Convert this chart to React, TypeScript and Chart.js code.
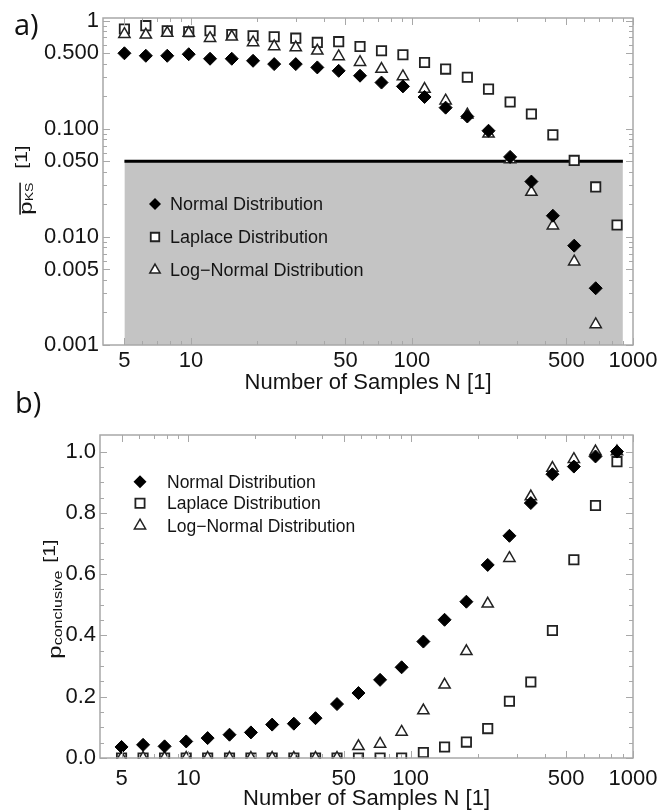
import React, { useEffect, useRef } from 'react';
import { Chart, registerables } from 'chart.js';

Chart.register(...registerables);

const FONT = "'Liberation Sans', Arial, Helvetica, sans-serif";
const TEXT = '#141414';
const FRAME = '#a8a8a8';

// ---------- data ----------
const sampleSizes = [5, 6.25, 7.81, 9.77, 12.2, 15.3, 19.1, 23.8, 29.8, 37.3, 46.6, 58.2, 72.8, 91.0, 114, 142, 178, 222, 278, 347, 434, 542, 678, 847];

// panel a: mean KS p-value
const ksNormal = [0.5, 0.474, 0.474, 0.49, 0.445, 0.445, 0.426, 0.397, 0.397, 0.37, 0.344, 0.31, 0.268, 0.247, 0.197, 0.157, 0.13, 0.096, 0.055, 0.0325, 0.0157, 0.0083, 0.00335];
const ksLaplace = [0.838, 0.9, 0.807, 0.79, 0.807, 0.746, 0.726, 0.711, 0.69, 0.63, 0.64, 0.578, 0.527, 0.484, 0.411, 0.357, 0.3, 0.233, 0.177, 0.137, 0.088, 0.051, 0.029, 0.0129];
const ksLogNormal = [0.75, 0.74, 0.77, 0.77, 0.69, 0.71, 0.63, 0.578, 0.565, 0.527, 0.468, 0.414, 0.357, 0.305, 0.233, 0.182, 0.135, 0.09, 0.052, 0.026, 0.0127, 0.0059, 0.00155];

// panel b: probability of a conclusive test
const pcNormal = [0.036, 0.043, 0.038, 0.054, 0.065, 0.076, 0.0835, 0.109, 0.112, 0.13, 0.176, 0.212, 0.255, 0.296, 0.38, 0.451, 0.51, 0.63, 0.725, 0.832, 0.926, 0.951, 0.984, 1.0];
const pcLaplace = [0, 0, 0, 0, 0, 0, 0, 0, 0, 0, 0, 0, 0, 0, 0.018, 0.036, 0.052, 0.096, 0.185, 0.248, 0.416, 0.647, 0.824, 0.967];
const pcLogNormal = [0, 0, 0, 0, 0, 0, 0, 0, 0, 0, 0, 0.038, 0.046, 0.085, 0.155, 0.239, 0.348, 0.503, 0.652, 0.853, 0.946, 0.975, 1.0, 1.0];

// significance threshold band
const thresholdX = [5, 900];
const thresholdY = [0.05, 0.05];

const seriesNames = ['Normal Distribution', 'Laplace Distribution', 'Log\u2212Normal Distribution'];

// ticks
const xMajorTicks = [5, 10, 50, 100, 500, 1000];
const xMinorTicks = [6, 7, 8, 9, 20, 30, 40, 60, 70, 80, 90, 200, 300, 400, 600, 700, 800, 900];
const ksMajorTicks = [0.001, 0.005, 0.01, 0.05, 0.1, 0.5, 1];
const ksTickLabels = ['0.001', '0.005', '0.010', '0.050', '0.100', '0.500', '1'];
const ksMinorTicks = [0.002, 0.003, 0.004, 0.006, 0.007, 0.008, 0.009, 0.02, 0.03, 0.04, 0.06, 0.07, 0.08, 0.09, 0.2, 0.3, 0.4, 0.6, 0.7, 0.8, 0.9];
const pcMajorTicks = [0, 0.2, 0.4, 0.6, 0.8, 1.0];
const pcTickLabels = ['0.0', '0.2', '0.4', '0.6', '0.8', '1.0'];
const pcMinorTicks = [0.05, 0.1, 0.15, 0.25, 0.3, 0.35, 0.45, 0.5, 0.55, 0.65, 0.7, 0.75, 0.85, 0.9, 0.95];

const xTitle = 'Number of Samples N [1]';

// ---------- helpers ----------
const toPoints = (ys: number[]) => ys.map((y, i) => ({ x: sampleSizes[i], y }));

type Shape = 'diamond' | 'square' | 'triangle';

function drawMarker(ctx: CanvasRenderingContext2D, shape: Shape, x: number, y: number, r: number) {
  ctx.save();
  ctx.beginPath();
  if (shape === 'diamond') {
    ctx.moveTo(x, y - r);
    ctx.lineTo(x + r, y);
    ctx.lineTo(x, y + r);
    ctx.lineTo(x - r, y);
    ctx.closePath();
    ctx.fillStyle = '#000';
    ctx.fill();
  } else if (shape === 'square') {
    const s = r * Math.SQRT1_2;
    ctx.rect(x - s, y - s, 2 * s, 2 * s);
    ctx.fillStyle = '#fff';
    ctx.fill();
    ctx.lineWidth = 1.8;
    ctx.strokeStyle = '#222';
    ctx.stroke();
  } else {
    ctx.moveTo(x, y - r);
    ctx.lineTo(x + r * 0.866, y + r / 2);
    ctx.lineTo(x - r * 0.866, y + r / 2);
    ctx.closePath();
    ctx.fillStyle = '#fff';
    ctx.fill();
    ctx.lineWidth = 1.5;
    ctx.strokeStyle = '#222';
    ctx.stroke();
  }
  ctx.restore();
}

type YTitle = {
  bx: number; dcy: number; squash: number;
  main: string; mainSize: number;
  sub: string; subSize: number; subDy: number;
  unit: string; unitSize: number; unitDy: number;
  gap: number; overline: boolean;
};

function drawYTitle(ctx: CanvasRenderingContext2D, cy: number, t: YTitle) {
  ctx.save();
  ctx.translate(t.bx, cy + t.dcy);
  ctx.rotate(-Math.PI / 2);
  ctx.scale(1, t.squash);
  ctx.fillStyle = TEXT;
  ctx.textAlign = 'left';
  ctx.textBaseline = 'alphabetic';
  ctx.font = `${t.mainSize}px ${FONT}`;
  const wm = ctx.measureText(t.main).width;
  ctx.font = `${t.subSize}px ${FONT}`;
  const ws = ctx.measureText(t.sub).width;
  ctx.font = `${t.unitSize}px ${FONT}`;
  const wu = ctx.measureText(t.unit).width;
  const total = wm + ws + t.gap + wu;
  const x0 = -total / 2;
  ctx.font = `${t.mainSize}px ${FONT}`;
  ctx.fillText(t.main, x0, 0);
  ctx.font = `${t.subSize}px ${FONT}`;
  ctx.fillText(t.sub, x0 + wm, t.subDy);
  if (t.overline) {
    ctx.fillRect(x0, -(0.53 * t.mainSize + 3.5), wm + ws, 2);
  }
  ctx.font = `${t.unitSize}px ${FONT}`;
  ctx.fillText(t.unit, x0 + wm + ws + t.gap, t.unitDy);
  ctx.restore();
}

type DecorCfg = {
  yMajor: number[]; yMinor: number[];
  legendX: number; legendTextX: number; legendRows: number[]; legendFont: number; legendR: number;
  title: YTitle;
  panelLabel: string; panelX: number; panelY: number;
};

function makeDecor(cfg: DecorCfg) {
  return {
    id: 'decor',
    afterDraw(chart: any) {
      const { ctx, chartArea: a, scales } = chart;
      const xs = scales.x;
      const ys = scales.y;
      ctx.save();
      // frame
      ctx.strokeStyle = FRAME;
      ctx.lineWidth = 1.5;
      ctx.strokeRect(a.left, a.top, a.right - a.left, a.bottom - a.top);
      // inward ticks
      ctx.lineWidth = 1;
      const line = (x1: number, y1: number, x2: number, y2: number) => {
        ctx.beginPath();
        ctx.moveTo(x1, y1);
        ctx.lineTo(x2, y2);
        ctx.stroke();
      };
      const tx = (vals: number[], len: number) =>
        vals.forEach((v) => {
          const p = Math.round(xs.getPixelForValue(v)) + 0.5;
          line(p, a.bottom, p, a.bottom - len);
          line(p, a.top, p, a.top + len);
        });
      const ty = (vals: number[], len: number) =>
        vals.forEach((v) => {
          const p = Math.round(ys.getPixelForValue(v)) + 0.5;
          line(a.left, p, a.left + len, p);
          line(a.right, p, a.right - len, p);
        });
      tx(xMajorTicks, 7);
      tx(xMinorTicks, 4);
      ty(cfg.yMajor, 7);
      ty(cfg.yMinor, 4);

      // legend
      const shapes: Shape[] = ['diamond', 'square', 'triangle'];
      ctx.font = `${cfg.legendFont}px ${FONT}`;
      ctx.textAlign = 'left';
      ctx.textBaseline = 'middle';
      seriesNames.forEach((name, i) => {
        const y = cfg.legendRows[i];
        drawMarker(ctx, shapes[i], cfg.legendX, y, cfg.legendR);
        ctx.fillStyle = TEXT;
        ctx.fillText(name, cfg.legendTextX, y + 1);
      });

      // rotated y title
      drawYTitle(ctx, (a.top + a.bottom) / 2, cfg.title);

      // panel label
      ctx.fillStyle = '#111';
      ctx.font = `29px 'Open Sans', ${FONT}`;
      ctx.textAlign = 'left';
      ctx.textBaseline = 'alphabetic';
      ctx.fillText(cfg.panelLabel, cfg.panelX, cfg.panelY);
      ctx.restore();
    },
  };
}

function markerDatasets(normal: number[], laplace: number[], logNormal: number[], clip: any) {
  return [
    {
      label: seriesNames[0],
      data: toPoints(normal),
      pointStyle: 'rectRot',
      pointRadius: 6.5,
      pointHoverRadius: 6.5,
      backgroundColor: '#000',
      borderColor: '#000',
      pointBorderWidth: 1,
      order: 0,
      clip,
    },
    {
      label: seriesNames[2],
      data: toPoints(logNormal),
      pointStyle: 'triangle',
      pointRadius: 6.5,
      pointHoverRadius: 6.5,
      backgroundColor: '#fff',
      borderColor: '#222',
      pointBorderWidth: 1.5,
      order: 1,
      clip,
    },
    {
      label: seriesNames[1],
      data: toPoints(laplace),
      pointStyle: 'rect',
      pointRadius: 6.6,
      pointHoverRadius: 6.6,
      backgroundColor: '#fff',
      borderColor: '#222',
      pointBorderWidth: 1.8,
      order: 2,
      clip,
    },
  ];
}

function xScale(height: number, labelPad: number, titlePad: number) {
  return {
    type: 'logarithmic',
    position: 'bottom',
    min: 4,
    max: 1000,
    afterBuildTicks: (s: any) => {
      s.ticks = xMajorTicks.map((v) => ({ value: v }));
    },
    afterFit: (s: any) => {
      s.height = height;
    },
    ticks: {
      autoSkip: false,
      maxRotation: 0,
      minRotation: 0,
      padding: labelPad,
      color: TEXT,
      font: { family: FONT, size: 22 },
      callback: (v: any) => String(v),
    },
    grid: { display: false, drawTicks: false },
    border: { display: false },
    title: {
      display: true,
      text: xTitle,
      color: TEXT,
      font: { family: FONT, size: 22, lineHeight: 1 },
      padding: { top: 0, bottom: titlePad },
    },
  };
}

function yScale(type: string, min: number, max: number, majors: number[], labels: string[], width: number) {
  return {
    type,
    position: 'left',
    min,
    max,
    afterBuildTicks: (s: any) => {
      s.ticks = majors.map((v) => ({ value: v }));
    },
    afterFit: (s: any) => {
      s.width = width;
    },
    ticks: {
      autoSkip: false,
      padding: 4,
      color: TEXT,
      font: { family: FONT, size: 22 },
      callback: (_v: any, i: number) => labels[i],
    },
    grid: { display: false, drawTicks: false },
    border: { display: false },
  };
}

function PanelA() {
  const ref = useRef<HTMLCanvasElement>(null);
  useEffect(() => {
    if (!ref.current) return;
    const chart = new Chart(ref.current, {
      type: 'scatter',
      data: {
        datasets: [
          ...markerDatasets(ksNormal, ksLaplace, ksLogNormal, false),
          {
            label: 'threshold',
            data: thresholdX.map((x, i) => ({ x, y: thresholdY[i] })),
            showLine: true,
            pointRadius: 0,
            pointHoverRadius: 0,
            borderColor: '#000',
            borderWidth: 3,
            backgroundColor: '#c4c4c4',
            fill: 'start',
            order: 3,
          },
        ] as any,
      },
      options: {
        animation: false,
        responsive: false,
        devicePixelRatio: 1,
        layout: { padding: { left: 0, right: 37, top: 18, bottom: 0 } },
        plugins: { legend: { display: false }, tooltip: { enabled: false } },
        scales: {
          x: xScale(55, 3, 6),
          y: yScale('logarithmic', 0.001, 1.06, ksMajorTicks, ksTickLabels, 103),
        } as any,
      },
      plugins: [
        makeDecor({
          yMajor: ksMajorTicks,
          yMinor: ksMinorTicks,
          legendX: 155,
          legendTextX: 170,
          legendRows: [204, 237, 270],
          legendFont: 18,
          legendR: 6,
          title: {
            bx: 31.5, dcy: -1.5, squash: 0.75,
            main: 'p', mainSize: 24,
            sub: 'KS', subSize: 14, subDy: 1.5,
            unit: '[1]', unitSize: 21, unitDy: -5.5,
            gap: 14, overline: true,
          },
          panelLabel: 'a)',
          panelX: 14,
          panelY: 35,
        }),
      ],
    } as any);
    return () => chart.destroy();
  }, []);
  return (
    <canvas
      ref={ref}
      width={670}
      height={400}
      style={{ position: 'absolute', left: 0, top: 0, width: 670, height: 400 }}
    />
  );
}

function PanelB() {
  const ref = useRef<HTMLCanvasElement>(null);
  useEffect(() => {
    if (!ref.current) return;
    const clip = { left: 10, right: 10, top: 10, bottom: 1 };
    const chart = new Chart(ref.current, {
      type: 'scatter',
      data: {
        datasets: markerDatasets(pcNormal, pcLaplace, pcLogNormal, clip) as any,
      },
      options: {
        animation: false,
        responsive: false,
        devicePixelRatio: 1,
        layout: { padding: { left: 0, right: 37, top: 55, bottom: 0 } },
        plugins: { legend: { display: false }, tooltip: { enabled: false } },
        scales: {
          x: xScale(53, 8, 1),
          y: yScale('linear', 0, 1.054, pcMajorTicks, pcTickLabels, 100),
        } as any,
      },
      plugins: [
        makeDecor({
          yMajor: pcMajorTicks,
          yMinor: pcMinorTicks,
          legendX: 140,
          legendTextX: 167,
          legendRows: [101.7, 123.3, 145.7],
          legendFont: 17.5,
          legendR: 6.5,
          title: {
            bx: 60.5, dcy: 2.5, squash: 0.75,
            main: 'p', mainSize: 24,
            sub: 'conclusive', subSize: 16, subDy: 1.5,
            unit: '[1]', unitSize: 21, unitDy: -8,
            gap: 8, overline: false,
          },
          panelLabel: 'b)',
          panelX: 15,
          panelY: 33,
        }),
      ],
    } as any);
    return () => chart.destroy();
  }, []);
  return (
    <canvas
      ref={ref}
      width={670}
      height={431}
      style={{ position: 'absolute', left: 0, top: 380, width: 670, height: 431 }}
    />
  );
}

export default function App() {
  return (
    <div style={{ position: 'absolute', left: 0, top: 0, width: 670, height: 811, background: '#fff' }}>
      <PanelA />
      <PanelB />
    </div>
  );
}
